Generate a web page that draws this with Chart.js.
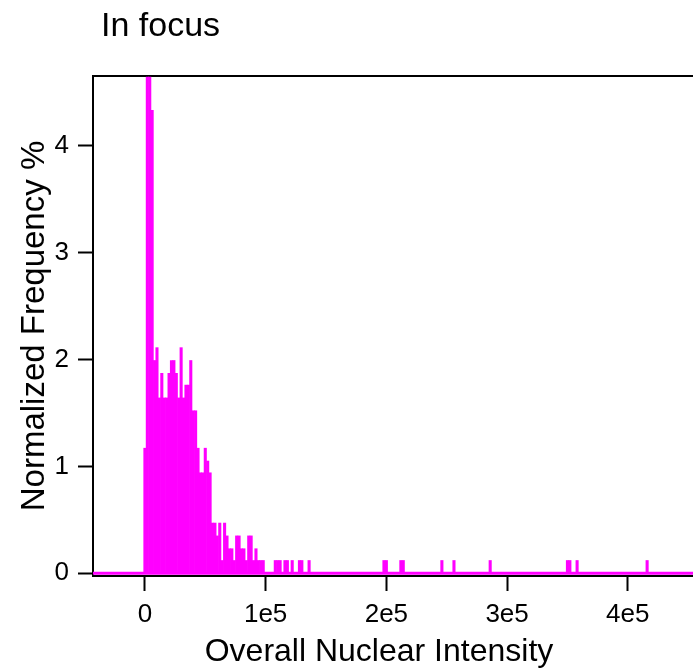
<!DOCTYPE html>
<html>
<head>
<meta charset="utf-8">
<script src="https://cdn.jsdelivr.net/npm/chart.js@4/dist/chart.umd.min.js"></script>
<style>
  body { margin: 0; background: #fff; }
  #wrap { width: 693px; height: 669px; }
</style>
</head>
<body>
<div id="wrap"><canvas id="myChart" width="693" height="669"></canvas></div>
<script>
// histogram bins (centre of bin, intensity units) and normalized frequency (%)
const binCenters = [
    0, 2000, 4000, 6000, 8000, 10000, 12000, 14000, 16000, 18000,
    20000, 22000, 24000, 26000, 28000, 30000, 32000, 34000, 36000, 38000,
    40000, 42000, 44000, 46000, 48000, 50000, 52000, 54000, 56000, 58000,
    60000, 62000, 64000, 66000, 68000, 70000, 72000, 74000, 76000, 78000,
    80000, 82000, 84000, 86000, 88000, 90000, 92000, 94000, 96000, 98000,
    108000, 110000, 112000, 116000, 118000, 122000, 128000, 130000, 136000,
    198000, 200000, 212000, 214000, 246000, 256000, 286000,
    350000, 352000, 358000, 416000
];
const frequency = [
    1.17, 4.64, 4.64, 4.33, 1.99, 2.11, 1.64, 1.87, 1.64, 1.64,
    1.87, 1.99, 1.99, 1.87, 1.64, 2.11, 1.64, 1.76, 1.76, 1.99,
    1.52, 1.52, 1.17, 0.94, 0.94, 1.17, 1.05, 0.94, 0.47, 0.47,
    0.35, 0.47, 0.12, 0.47, 0.35, 0.23, 0.23, 0.12, 0.35, 0.35,
    0.23, 0.23, 0.12, 0.35, 0.35, 0.12, 0.23, 0.12, 0.12, 0.12,
    0.12, 0.12, 0.12, 0.12, 0.12, 0.12, 0.12, 0.12, 0.12,
    0.12, 0.12, 0.12, 0.12, 0.12, 0.12, 0.12,
    0.12, 0.12, 0.12, 0.12
];
const xTickValues = [0, 100000, 200000, 300000, 400000];
const xTickLabels = ['0', '1e5', '2e5', '3e5', '4e5'];
const yTickValues = [0, 1, 2, 3, 4];
const xRange = [-43000, 454000];
const yRange = [-0.025, 4.65];

const titleText = 'In focus';
const xTitleText = 'Overall Nuclear Intensity';
const yTitleText = 'Normalized Frequency %';

const FONT = "'Liberation Sans', Arial, sans-serif";
const MAGENTA = '#ff00ff';

const textPlugin = {
    id: 'texts',
    afterDraw(chart) {
        const c = chart.ctx;
        c.save();
        c.fillStyle = '#000';
        c.font = '34px ' + FONT;
        c.textAlign = 'left';
        c.textBaseline = 'alphabetic';
        c.fillText(titleText, 101, 36);
        c.font = '32px ' + FONT;
        c.textAlign = 'center';
        c.textBaseline = 'middle';
        c.fillText(xTitleText, chart.chartArea.left + 286, 652);
        c.restore();
    }
};

document.addEventListener("DOMContentLoaded", () => {
    const ctx = document.getElementById('myChart').getContext('2d');

    const bars = binCenters.map((x, i) => ({ x: x, y: frequency[i] }));

    new Chart(ctx, {
        type: 'bar',
        data: {
            datasets: [{
                type: 'line',
                data: [{ x: xRange[0], y: 0 }, { x: xRange[1], y: 0 }],
                borderColor: MAGENTA,
                borderWidth: 3,
                pointRadius: 0
            }, {
                data: bars,
                backgroundColor: MAGENTA,
                borderWidth: 0,
                barPercentage: 1,
                categoryPercentage: 1
            }]
        },
        options: {
            responsive: false,
            animation: false,
            layout: { padding: { top: 76, right: 0, left: 0, bottom: 0 } },
            plugins: {
                legend: { display: false },
                tooltip: { enabled: false },
                title: { display: false }
            },
            scales: {
                x: {
                    type: 'linear',
                    min: xRange[0],
                    max: xRange[1],
                    offset: false,
                    afterFit: s => { s.height = 93; },
                    afterBuildTicks: s => { s.ticks = xTickValues.map(v => ({ value: v })); },
                    grid: { offset: false, drawOnChartArea: false, drawTicks: true, tickLength: 15, tickColor: '#000', tickWidth: 2 },
                    border: { display: true, color: '#000', width: 2 },
                    ticks: {
                        color: '#000',
                        font: { family: FONT, size: 26 },
                        padding: 8,
                        maxRotation: 0,
                        callback: v => xTickLabels[xTickValues.indexOf(v)]
                    }
                },
                x2: {
                    type: 'linear',
                    position: 'top',
                    min: xRange[0],
                    max: xRange[1],
                    offset: false,
                    afterFit: s => { s.height = 0; },
                    grid: { offset: false, drawOnChartArea: false, drawTicks: false },
                    border: { display: true, color: '#000', width: 2 },
                    ticks: { display: false }
                },
                y: {
                    min: yRange[0],
                    max: yRange[1],
                    afterFit: s => { s.width = 93; },
                    afterBuildTicks: s => { s.ticks = yTickValues.map(v => ({ value: v })); },
                    grid: { drawOnChartArea: false, drawTicks: true, tickLength: 15, tickColor: '#000', tickWidth: 2 },
                    border: { display: true, color: '#000', width: 2 },
                    title: {
                        display: true,
                        text: yTitleText,
                        color: '#000',
                        font: { family: FONT, size: 33 },
                        padding: { top: 15, bottom: 0 }
                    },
                    ticks: {
                        color: '#000',
                        font: { family: FONT, size: 26 },
                        padding: 9,
                        callback: v => String(v)
                    }
                }
            }
        },
        plugins: [textPlugin]
    });
});
</script>
</body>
</html>
